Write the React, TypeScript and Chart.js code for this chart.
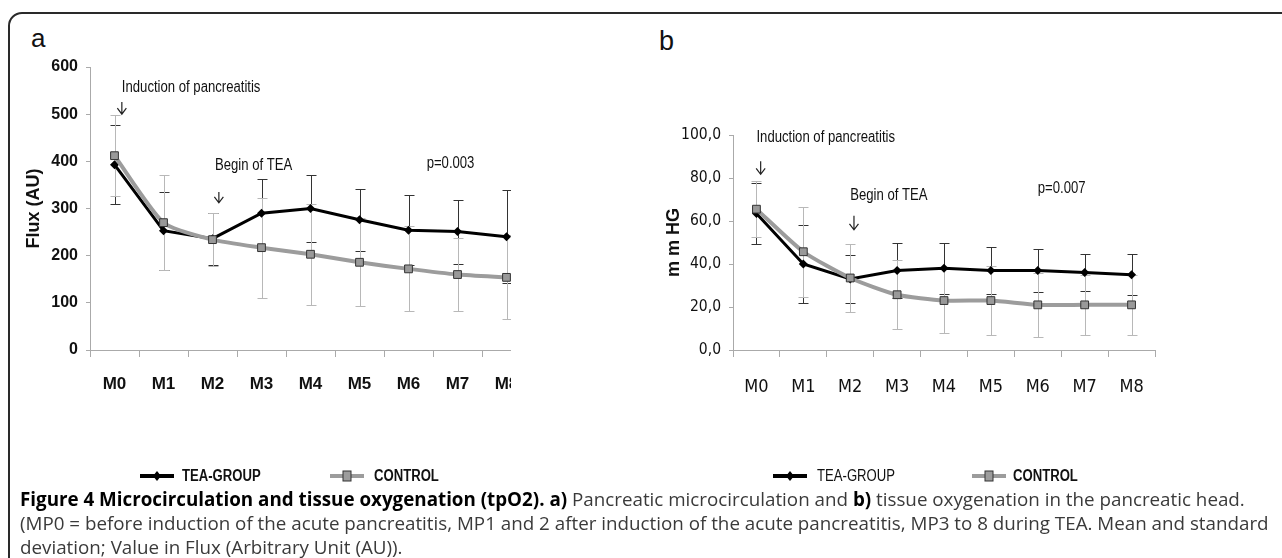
import React, { useEffect, useRef } from "react";
import { Chart, registerables } from "chart.js";
Chart.register(...registerables);

// ---------- data ----------
const categories = ["M0", "M1", "M2", "M3", "M4", "M5", "M6", "M7", "M8"];

const fluxTea = [393, 253, 236, 290, 300, 276, 254, 251, 240];
const fluxTeaSd = [83, 83, 55, 73, 70, 66, 74, 68, 99];
const fluxControl = [412, 270, 234, 217, 203, 186, 172, 160, 154];
const fluxControlSd = [86, 101, 56, 106, 107, 93, 90, 78, 89];
const fluxTickLabels = ["0", "100", "200", "300", "400", "500", "600"];

const tpo2Tea = [63.5, 40, 33, 37, 38, 37, 37, 36, 35];
const tpo2TeaSd = [14, 18, 11, 13, 12, 11, 10, 8.5, 9.5];
const tpo2Control = [65.5, 45.7, 33.5, 25.7, 23, 23, 21, 21, 21];
const tpo2ControlSd = [13, 21, 16, 16, 15, 16, 15, 14, 14];
const tpo2TickLabels = ["0,0", "20,0", "40,0", "60,0", "80,0", "100,0"];

// annotations in data coordinates (x = category index, y = value)
const fluxNotes = [
  { text: "Induction of pancreatitis", x: 0.15, y: 556 },
  { text: "Begin of TEA", x: 2.05, y: 392 },
  { text: "p=0.003", x: 6.37, y: 396 },
];
const fluxArrows = [
  { x: 0.15, from: 526, to: 500 },
  { x: 2.13, from: 335, to: 312 },
];
const tpo2Notes = [
  { text: "Induction of pancreatitis", x: 0.0, y: 98.6 },
  { text: "Begin of TEA", x: 2.0, y: 71.8 },
  { text: "p=0.007", x: 6.0, y: 75 },
];
const tpo2Arrows = [
  { x: 0.09, from: 87.8, to: 81.7 },
  { x: 2.08, from: 62.4, to: 55.9 },
];

const SANS = "'Liberation Sans', Arial, sans-serif";
const COND = "'DejaVu Sans Condensed', 'Liberation Sans', sans-serif";
const NARROW_SCALE = 0.82;

function narrowText(ctx: any, text: string, x: number, y: number) {
  ctx.save();
  ctx.translate(x, y);
  ctx.scale(NARROW_SCALE, 1);
  ctx.fillText(text, 0, 0);
  ctx.restore();
}

// ---------- plugins ----------
const errorBarPlugin = {
  id: "errorBars",
  beforeDatasetsDraw(chart: any) {
    const ctx = chart.ctx;
    const ys = chart.scales.y;
    chart.data.datasets.forEach((ds: any, di: number) => {
      if (!ds.errors) return;
      const meta = chart.getDatasetMeta(di);
      ctx.save();
      ctx.strokeStyle = ds.errorColor;
      ctx.lineWidth = 1;
      meta.data.forEach((pt: any, i: number) => {
        const v = ds.data[i];
        const e = ds.errors[i];
        const x = Math.round(pt.x) + 0.5;
        const yt = Math.round(ys.getPixelForValue(v + e)) + 0.5;
        const yb = Math.round(ys.getPixelForValue(v - e)) + 0.5;
        ctx.beginPath();
        ctx.moveTo(x, yt);
        ctx.lineTo(x, yb);
        ctx.moveTo(x - 5, yt);
        ctx.lineTo(x + 5, yt);
        ctx.moveTo(x - 5, yb);
        ctx.lineTo(x + 5, yb);
        ctx.stroke();
      });
      ctx.restore();
    });
  },
};

const notesPlugin = {
  id: "notes",
  afterDraw(chart: any, _args: any, opts: any) {
    if (!opts || !opts.texts) return;
    const ctx = chart.ctx;
    const xs = chart.scales.x;
    const ys = chart.scales.y;
    ctx.save();
    ctx.fillStyle = "#111";
    ctx.font = opts.font;
    ctx.textBaseline = "middle";
    ctx.textAlign = "left";
    opts.texts.forEach((t: any) => {
      narrowText(ctx, t.text, xs.getPixelForValue(t.x), ys.getPixelForValue(t.y));
    });
    ctx.strokeStyle = "#222";
    ctx.lineWidth = 1.2;
    opts.arrows.forEach((a: any) => {
      const x = xs.getPixelForValue(a.x);
      const y1 = ys.getPixelForValue(a.from);
      const y2 = ys.getPixelForValue(a.to);
      ctx.beginPath();
      ctx.moveTo(x, y1);
      ctx.lineTo(x, y2);
      ctx.moveTo(x - 4.5, y2 - 6);
      ctx.lineTo(x, y2);
      ctx.lineTo(x + 4.5, y2 - 6);
      ctx.stroke();
    });
    ctx.restore();
  },
};

const legendPlugin = {
  id: "customLegend",
  afterDraw(chart: any, _args: any, opts: any) {
    if (!opts || !opts.items) return;
    const ctx = chart.ctx;
    ctx.save();
    opts.items.forEach((it: any) => {
      const y = opts.y;
      ctx.strokeStyle = it.color;
      ctx.lineWidth = it.lineWidth;
      ctx.beginPath();
      ctx.moveTo(it.x, y);
      ctx.lineTo(it.x + 34, y);
      ctx.stroke();
      const cx = it.x + 17;
      if (it.marker === "diamond") {
        ctx.fillStyle = it.color;
        ctx.beginPath();
        ctx.moveTo(cx, y - 5);
        ctx.lineTo(cx + 4, y);
        ctx.lineTo(cx, y + 5);
        ctx.lineTo(cx - 4, y);
        ctx.closePath();
        ctx.fill();
      } else {
        ctx.fillStyle = it.color;
        ctx.strokeStyle = "#333";
        ctx.lineWidth = 1;
        ctx.fillRect(cx - 4, y - 5, 8, 10);
        ctx.strokeRect(cx - 4, y - 5, 8, 10);
      }
      ctx.fillStyle = "#111";
      ctx.font = it.font;
      ctx.textBaseline = "middle";
      ctx.textAlign = "left";
      narrowText(ctx, it.label, it.x + it.textGap, y + 1);
    });
    ctx.restore();
  },
};

// ---------- chart factory ----------
function buildConfig(p: any) {
  return {
    type: "line",
    data: {
      labels: categories,
      datasets: [
        {
          label: "TEA-GROUP",
          data: p.tea,
          errors: p.teaSd,
          errorColor: "#333",
          borderColor: "#000",
          backgroundColor: "#000",
          borderWidth: 3,
          pointStyle: "rectRot",
          pointRadius: 4.5,
          pointBorderWidth: 0,
          tension: 0,
          order: 2,
        },
        {
          label: "CONTROL",
          data: p.control,
          errors: p.controlSd,
          errorColor: "#b8b8b8",
          borderColor: "#9c9c9c",
          backgroundColor: "#999",
          borderWidth: 4,
          pointStyle: "rect",
          pointRadius: 5.5,
          pointBorderColor: "#333",
          pointBorderWidth: 1,
          tension: 0.2,
          order: 1,
        },
      ],
    },
    options: {
      responsive: false,
      animation: false,
      events: [],
      layout: { padding: { left: 0, right: p.padRight, top: p.padTop, bottom: 90 } },
      plugins: {
        legend: { display: false },
        tooltip: { enabled: false },
        notes: { texts: p.notes, arrows: p.arrows, font: `16px ${SANS}` },
        customLegend: { y: 436, items: p.legend },
      },
      scales: {
        x: {
          offset: true,
          grid: { offset: true, drawOnChartArea: false, tickLength: 7, color: "#aaa", tickColor: "#aaa" },
          border: { color: "#aaa" },
          ticks: {
            color: "#111",
            padding: p.xPad,
            autoSkip: false,
            maxRotation: 0,
            font: p.xFont,
          },
          afterFit: (s: any) => { s.height = 60; },
        },
        y: {
          min: p.min,
          max: p.max,
          grid: { drawOnChartArea: false, tickLength: 4, color: "#aaa", tickColor: "#aaa" },
          border: { color: "#aaa" },
          ticks: {
            stepSize: p.step,
            padding: 8,
            color: "#111",
            font: p.yFont,
            callback: (_v: any, i: number) => p.tickLabels[i],
          },
          title: {
            display: true,
            text: p.yTitle,
            color: "#111",
            padding: { top: p.titlePad, bottom: 0 },
            font: { family: SANS, size: 18, weight: "bold" },
          },
          afterFit: (s: any) => { s.width = p.yWidth; },
        },
      },
    },
    plugins: [errorBarPlugin, notesPlugin, legendPlugin],
  };
}

function ChartCanvas({ params, width, height }: any) {
  const ref = useRef<HTMLCanvasElement | null>(null);
  useEffect(() => {
    if (!ref.current) return;
    const chart = new Chart(ref.current, buildConfig(params) as any);
    return () => chart.destroy();
  }, []);
  return <canvas ref={ref} width={width} height={height} style={{ width, height, display: "block" }} />;
}

const fluxParams = {
  tea: fluxTea, teaSd: fluxTeaSd, control: fluxControl, controlSd: fluxControlSd,
  min: 0, max: 600, step: 100, tickLabels: fluxTickLabels,
  yTitle: "Flux (AU)", yWidth: 70, titlePad: 3, padRight: 29, padTop: 27, xPad: 17,
  xFont: { family: SANS, size: 17, weight: "bold" },
  yFont: { family: SANS, size: 16, weight: "bold" },
  notes: fluxNotes, arrows: fluxArrows,
  legend: [
    { label: "TEA-GROUP", x: 120, color: "#000", lineWidth: 4, marker: "diamond", textGap: 42, font: `bold 16px ${SANS}` },
    { label: "CONTROL", x: 310, color: "#9c9c9c", lineWidth: 4, marker: "square", textGap: 44, font: `bold 16px ${SANS}` },
  ],
};

const tpo2Params = {
  tea: tpo2Tea, teaSd: tpo2TeaSd, control: tpo2Control, controlSd: tpo2ControlSd,
  min: 0, max: 100, step: 20, tickLabels: tpo2TickLabels,
  yTitle: "m m HG", yWidth: 78, titlePad: 8, padRight: 40, padTop: 95, xPad: 20,
  xFont: { family: COND, size: 18, weight: "normal" },
  yFont: { family: COND, size: 15.5, weight: "normal" },
  notes: tpo2Notes, arrows: tpo2Arrows,
  legend: [
    { label: "TEA-GROUP", x: 118, color: "#000", lineWidth: 4, marker: "diamond", textGap: 44, font: `16px ${SANS}` },
    { label: "CONTROL", x: 317, color: "#9c9c9c", lineWidth: 4, marker: "square", textGap: 41, font: `bold 16px ${SANS}` },
  ],
};

export default function App() {
  return (
    <div style={{ position: "fixed", left: 0, top: 0, width: 1282, height: 558, overflow: "hidden", background: "#fff" }}>
      <div
        style={{
          position: "absolute", left: 8, top: 12, width: 1320, height: 700,
          border: "2px solid #2a2a2a", borderRadius: 14, boxSizing: "border-box",
        }}
      />
      <div style={{ position: "absolute", left: 31, top: 25, font: `26px/27px ${SANS}`, color: "#111" }}>a</div>
      <div style={{ position: "absolute", left: 659, top: 28, font: `27px/27px ${SANS}`, color: "#111" }}>b</div>
      <div style={{ position: "absolute", left: 20, top: 40, width: 491, height: 460, overflow: "hidden" }}>
        <ChartCanvas params={fluxParams} width={540} height={460} />
      </div>
      <div style={{ position: "absolute", left: 655, top: 40 }}>
        <ChartCanvas params={tpo2Params} width={540} height={460} />
      </div>
      <div
        style={{
          position: "absolute", left: 20, top: 487, whiteSpace: "nowrap",
          font: `18.8px/24px 'Open Sans', sans-serif`, color: "#3a3a3a",
        }}
      >
        <b style={{ color: "#000" }}>Figure 4 Microcirculation and tissue oxygenation (tpO2). a)</b> Pancreatic microcirculation and{" "}
        <b style={{ color: "#000" }}>b)</b> tissue oxygenation in the pancreatic head.
        <br />
        (MP0 = before induction of the acute pancreatitis, MP1 and 2 after induction of the acute pancreatitis, MP3 to 8 during TEA. Mean and standard
        <br />
        deviation; Value in Flux (Arbitrary Unit (AU)).
      </div>
    </div>
  );
}
